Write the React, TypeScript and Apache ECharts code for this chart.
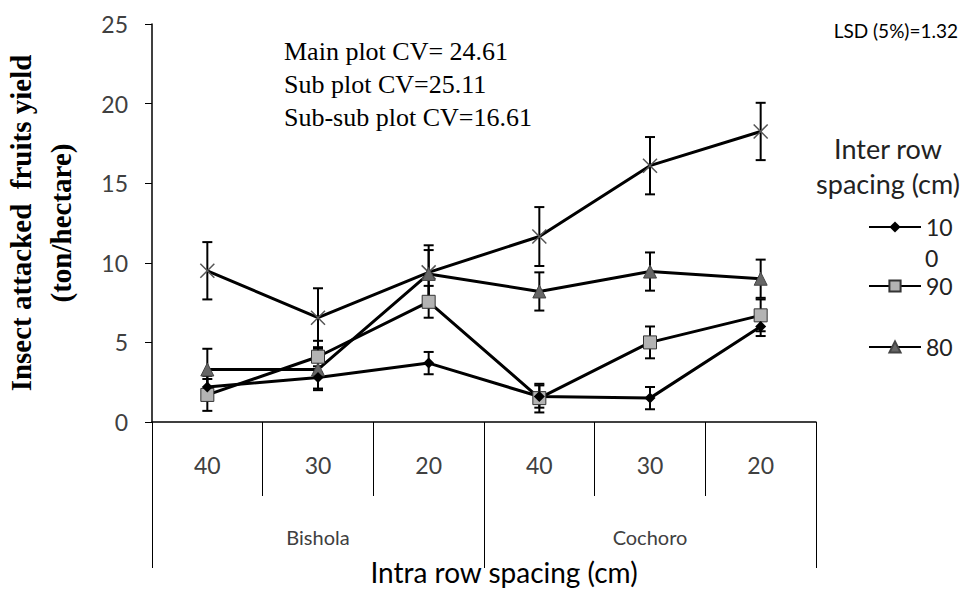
import React, { useEffect, useRef } from 'react';
import * as echarts from 'echarts';

// ---- data ----
const categories = ['40', '30', '20', '40', '30', '20'];
const groups = ['Bishola', 'Cochoro'];
const yMin = 0;
const yMax = 25;
const yStep = 5;

const s100 = [2.2, 2.8, 3.7, 1.6, 1.5, 6.0];
const e100 = [0.7, 0.7, 0.7, 0.7, 0.7, 0.6];
const s90 = [1.7, 4.1, 7.55, 1.5, 5.0, 6.7];
const e90 = [1.0, 1.0, 1.0, 0.9, 1.0, 1.0];
const s80 = [3.3, 3.3, 9.3, 8.2, 9.45, 9.0];
const e80 = [1.3, 1.3, 1.5, 1.2, 1.2, 1.2];
const s70 = [9.5, 6.55, 9.4, 11.65, 16.1, 18.25];
const e70 = [1.8, 1.85, 1.7, 1.85, 1.8, 1.8];

const annotation = ['Main plot CV= 24.61', 'Sub plot CV=25.11', 'Sub-sub plot CV=16.61'];
const lsdText = 'LSD (5%)=1.32';
const legendTitle = ['Inter row', 'spacing (cm)'];
// legend label "100" wraps in the reference as "10" / "0"
const legend100Lines = ['10', '0'];

const FONT = 'Lato';
const SERIF = '"Liberation Serif", "Times New Roman", serif';

function errData(vals: number[], errs: number[]) {
  return vals.map((v, i) => [i, v - errs[i], v + errs[i]]);
}

function errRender(_params: any, api: any) {
  const x = api.value(0);
  const lo = api.coord([x, api.value(1)]);
  const hi = api.coord([x, api.value(2)]);
  const hw = 5;
  const style = { stroke: '#000', lineWidth: 2 };
  return {
    type: 'group',
    children: [
      { type: 'line', shape: { x1: lo[0], y1: lo[1], x2: hi[0], y2: hi[1] }, style },
      { type: 'line', shape: { x1: lo[0] - hw, y1: lo[1], x2: lo[0] + hw, y2: lo[1] }, style },
      { type: 'line', shape: { x1: hi[0] - hw, y1: hi[1], x2: hi[0] + hw, y2: hi[1] }, style },
    ],
  };
}

function errSeries(vals: number[], errs: number[]) {
  return {
    type: 'custom',
    renderItem: errRender,
    data: errData(vals, errs),
    encode: { x: 0, y: [1, 2] },
    z: 2,
    silent: true,
  };
}

const lineStyle = { color: '#000', width: 3 };

const legendText = {
  fontFamily: FONT,
  fontSize: 23,
  color: '#222',
  lineHeight: 31,
};

function legendBox(name: string, top: number, formatter?: string) {
  const l: any = {
    data: [name],
    orient: 'vertical',
    left: 868,
    top,
    padding: 0,
    itemWidth: 52,
    itemHeight: 14,
    selectedMode: false,
    textStyle: legendText,
  };
  if (formatter) l.formatter = () => formatter;
  return l;
}

export default function App() {
  const ref = useRef<HTMLDivElement>(null);

  useEffect(() => {
    if (!ref.current) return;
    const chart = echarts.init(ref.current, undefined, { renderer: 'svg' });
    const option: any = {
      animation: false,
      backgroundColor: '#fff',
      grid: {
        left: 152,
        right: 147,
        top: 24,
        bottom: 169,
        containLabel: false,
        outerBoundsMode: 'none',
      },
      xAxis: [
        {
          type: 'category',
          data: categories,
          position: 'bottom',
          boundaryGap: true,
          axisLine: { lineStyle: { color: '#000', width: 1.5 } },
          axisTick: { show: true, interval: 0, length: 74, lineStyle: { color: '#000', width: 1 } },
          axisLabel: { interval: 0, margin: 31, fontFamily: FONT, fontSize: 23, color: '#404040' },
          splitLine: { show: false },
          name: 'Intra row spacing (cm)',
          nameLocation: 'middle',
          nameGap: 135,
          nameTextStyle: { fontFamily: FONT, fontSize: 28, lineHeight: 30, color: '#000', padding: [0, 0, 0, 40] },
        },
        {
          type: 'category',
          data: groups,
          position: 'bottom',
          boundaryGap: true,
          axisLine: { show: false },
          axisTick: { show: true, interval: 0, length: 146, lineStyle: { color: '#000', width: 1 } },
          axisLabel: { interval: 0, margin: 105, fontFamily: FONT, fontSize: 20, color: '#404040' },
          splitLine: { show: false },
        },
      ],
      yAxis: {
        type: 'value',
        min: yMin,
        max: yMax,
        interval: yStep,
        axisLine: { show: true, lineStyle: { color: '#000', width: 1.5 } },
        axisTick: { show: true, length: 7, lineStyle: { color: '#000', width: 1 } },
        axisLabel: { margin: 24, fontFamily: FONT, fontSize: 23, color: '#404040' },
        splitLine: { show: false },
        name: 'Insect attacked  fruits yield\n(ton/hectare)',
        nameLocation: 'middle',
        nameRotate: 90,
        nameGap: 71,
        nameTextStyle: { fontFamily: SERIF, fontWeight: 'bold', fontSize: 29, lineHeight: 40, color: '#000' },
      },
      legend: [
        legendBox('100', 211.5, legend100Lines[0]),
        legendBox('90', 270.5),
        legendBox('80', 331.5),
      ],
      graphic: [
        {
          type: 'text',
          x: 284,
          y: 35,
          style: {
            text: annotation.join('\n'),
            fontFamily: SERIF,
            fontSize: 26,
            lineHeight: 33,
            fill: '#000',
          },
        },
        {
          type: 'text',
          x: 958,
          y: 30,
          style: {
            text: lsdText,
            fontFamily: FONT,
            fontSize: 19,
            fill: '#000',
            align: 'right',
            verticalAlign: 'middle',
          },
        },
        {
          type: 'text',
          x: 888,
          y: 166,
          style: {
            text: legendTitle.join('\n'),
            fontFamily: FONT,
            fontSize: 27,
            lineHeight: 35,
            fill: '#222',
            align: 'center',
            verticalAlign: 'middle',
          },
        },
        {
          type: 'text',
          x: 925,
          y: 258,
          style: {
            text: legend100Lines[1],
            fontFamily: FONT,
            fontSize: 23,
            fill: '#222',
            align: 'left',
            verticalAlign: 'middle',
          },
        },
      ],
      series: [
        errSeries(s70, e70),
        errSeries(s80, e80),
        errSeries(s90, e90),
        errSeries(s100, e100),
        {
          name: '70',
          type: 'line',
          data: s70,
          symbol: 'path://M0,0L10,10M10,0L0,10',
          symbolSize: 14,
          lineStyle,
          itemStyle: { color: 'none', borderColor: '#555', borderWidth: 1.5 },
          z: 3,
        },
        {
          name: '80',
          type: 'line',
          data: s80,
          symbol: 'triangle',
          symbolSize: 13,
          lineStyle,
          itemStyle: { color: '#666', borderColor: '#444', borderWidth: 1 },
          z: 3,
        },
        {
          name: '90',
          type: 'line',
          data: s90,
          symbol: 'rect',
          symbolSize: 13,
          lineStyle,
          itemStyle: { color: '#b3b3b3', borderColor: '#333', borderWidth: 1 },
          z: 3,
        },
        {
          name: '100',
          type: 'line',
          data: s100,
          symbol: 'diamond',
          symbolSize: 11,
          lineStyle,
          itemStyle: { color: '#000' },
          z: 3,
        },
      ],
    };
    chart.setOption(option);
    return () => chart.dispose();
  }, []);

  return (
    <div
      ref={ref}
      style={{ position: 'fixed', left: 0, top: 0, width: 963, height: 591, background: '#fff' }}
    />
  );
}
